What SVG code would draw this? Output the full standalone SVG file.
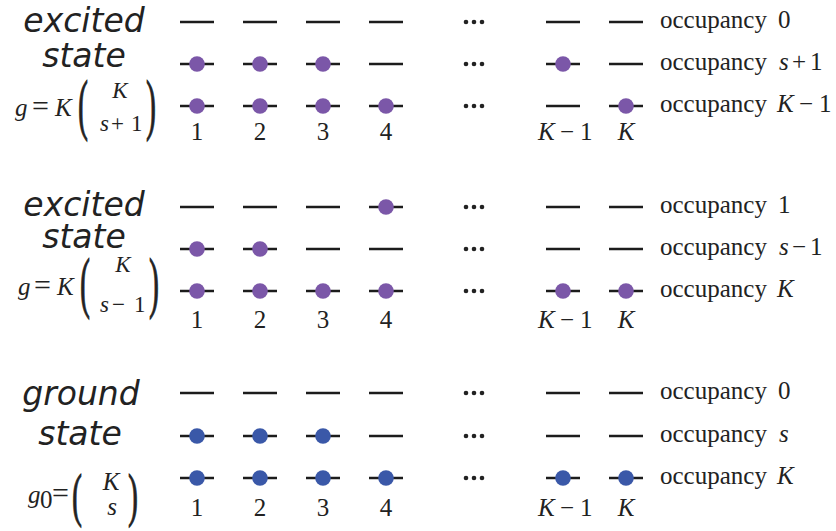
<svg xmlns="http://www.w3.org/2000/svg" width="836" height="531" viewBox="0 0 836 531">
<style>
.lv{stroke:#1c1c1c;stroke-width:2.6}
.p{fill:#7b57a8}
.b{fill:#3a58a8}
.d{fill:#222}
.t{font-family:"Liberation Serif","Times New Roman",serif;font-size:25px;fill:#222}
.s{font-family:"Liberation Serif","Times New Roman",serif;font-size:23px;fill:#222}
.q{font-family:"Liberation Serif","Times New Roman",serif;font-size:30px;fill:#222;stroke:#222;stroke-width:0.5}
.e{font-family:"Liberation Serif","Times New Roman",serif;font-size:30px;fill:#222}
.i{font-style:italic}
.h{font-family:"DejaVu Sans",sans-serif;font-style:oblique;font-size:33px;fill:#222;text-anchor:middle}
.m{text-anchor:middle}
</style>
<rect width="836" height="531" fill="#fff"/>

<!-- ===== Section 1: excited state (s+1) ===== -->
<g id="sec1-title">
<text class="h" x="84" y="32">excited</text>
<text class="h" x="84" y="67">state</text>
</g>
<g id="sec1-formula">
<text class="t i" x="15" y="116">g</text>
<text class="e" x="32" y="116">=</text>
<text class="t i" x="55" y="116">K</text>
<text class="q" transform="translate(78,127) scale(1,2.27)">(</text>
<text class="s i m" x="120" y="98">K</text>
<text class="s i" x="100" y="131">s</text>
<text class="s" x="111" y="131">+</text>
<text class="s" x="131" y="131">1</text>
<text class="q" transform="translate(146,127) scale(1,2.27)">)</text>
</g>
<g id="sec1-levels">
<line class="lv" x1="180" y1="22" x2="214" y2="22"/>
<line class="lv" x1="243" y1="22" x2="277" y2="22"/>
<line class="lv" x1="306" y1="22" x2="340" y2="22"/>
<line class="lv" x1="369" y1="22" x2="403" y2="22"/>
<line class="lv" x1="546" y1="22" x2="580" y2="22"/>
<line class="lv" x1="609" y1="22" x2="643" y2="22"/>
<line class="lv" x1="180" y1="64" x2="214" y2="64"/>
<line class="lv" x1="243" y1="64" x2="277" y2="64"/>
<line class="lv" x1="306" y1="64" x2="340" y2="64"/>
<line class="lv" x1="369" y1="64" x2="403" y2="64"/>
<line class="lv" x1="546" y1="64" x2="580" y2="64"/>
<line class="lv" x1="609" y1="64" x2="643" y2="64"/>
<line class="lv" x1="180" y1="106" x2="214" y2="106"/>
<line class="lv" x1="243" y1="106" x2="277" y2="106"/>
<line class="lv" x1="306" y1="106" x2="340" y2="106"/>
<line class="lv" x1="369" y1="106" x2="403" y2="106"/>
<line class="lv" x1="546" y1="106" x2="580" y2="106"/>
<line class="lv" x1="609" y1="106" x2="643" y2="106"/>
<circle class="p" cx="197" cy="64" r="7.8"/>
<circle class="p" cx="260" cy="64" r="7.8"/>
<circle class="p" cx="323" cy="64" r="7.8"/>
<circle class="p" cx="563" cy="64" r="7.8"/>
<circle class="p" cx="197" cy="106" r="7.8"/>
<circle class="p" cx="260" cy="106" r="7.8"/>
<circle class="p" cx="323" cy="106" r="7.8"/>
<circle class="p" cx="386" cy="106" r="7.8"/>
<circle class="p" cx="626" cy="106" r="7.8"/>
<circle class="d" cx="466" cy="22" r="2.3"/><circle class="d" cx="474" cy="22" r="2.3"/><circle class="d" cx="482" cy="22" r="2.3"/>
<circle class="d" cx="466" cy="64" r="2.3"/><circle class="d" cx="474" cy="64" r="2.3"/><circle class="d" cx="482" cy="64" r="2.3"/>
<circle class="d" cx="466" cy="106" r="2.3"/><circle class="d" cx="474" cy="106" r="2.3"/><circle class="d" cx="482" cy="106" r="2.3"/>
</g>
<g id="sec1-labels">
<text class="t m" x="197" y="140">1</text>
<text class="t m" x="260" y="140">2</text>
<text class="t m" x="323" y="140">3</text>
<text class="t m" x="386" y="140">4</text>
<text class="t" x="538" y="140"><tspan class="i">K</tspan><tspan x="560">−</tspan><tspan x="580">1</tspan></text>
<text class="t i m" x="626" y="140">K</text>
<text class="t" x="660" y="28">occupancy <tspan x="778">0</tspan></text>
<text class="t" x="660" y="70">occupancy <tspan class="i" x="779">s</tspan><tspan x="792">+</tspan><tspan x="810">1</tspan></text>
<text class="t" x="660" y="112">occupancy <tspan class="i" x="777">K</tspan><tspan x="799">−</tspan><tspan x="819">1</tspan></text>
</g>

<!-- ===== Section 2: excited state (s-1) ===== -->
<g id="sec2-title">
<text class="h" x="84" y="216">excited</text>
<text class="h" x="84" y="248">state</text>
</g>
<g id="sec2-formula">
<text class="t i" x="18" y="295">g</text>
<text class="e" x="34" y="295">=</text>
<text class="t i" x="57" y="295">K</text>
<text class="q" transform="translate(80,305) scale(1,2.27)">(</text>
<text class="s i m" x="123" y="272">K</text>
<text class="s i" x="100" y="312">s</text>
<text class="s" x="112" y="312">−</text>
<text class="s" x="134" y="312">1</text>
<text class="q" transform="translate(149,305) scale(1,2.27)">)</text>
</g>
<g id="sec2-levels">
<line class="lv" x1="180" y1="207" x2="214" y2="207"/>
<line class="lv" x1="243" y1="207" x2="277" y2="207"/>
<line class="lv" x1="306" y1="207" x2="340" y2="207"/>
<line class="lv" x1="369" y1="207" x2="403" y2="207"/>
<line class="lv" x1="546" y1="207" x2="580" y2="207"/>
<line class="lv" x1="609" y1="207" x2="643" y2="207"/>
<line class="lv" x1="180" y1="249" x2="214" y2="249"/>
<line class="lv" x1="243" y1="249" x2="277" y2="249"/>
<line class="lv" x1="306" y1="249" x2="340" y2="249"/>
<line class="lv" x1="369" y1="249" x2="403" y2="249"/>
<line class="lv" x1="546" y1="249" x2="580" y2="249"/>
<line class="lv" x1="609" y1="249" x2="643" y2="249"/>
<line class="lv" x1="180" y1="291" x2="214" y2="291"/>
<line class="lv" x1="243" y1="291" x2="277" y2="291"/>
<line class="lv" x1="306" y1="291" x2="340" y2="291"/>
<line class="lv" x1="369" y1="291" x2="403" y2="291"/>
<line class="lv" x1="546" y1="291" x2="580" y2="291"/>
<line class="lv" x1="609" y1="291" x2="643" y2="291"/>
<circle class="p" cx="386" cy="207" r="7.8"/>
<circle class="p" cx="197" cy="249" r="7.8"/>
<circle class="p" cx="260" cy="249" r="7.8"/>
<circle class="p" cx="197" cy="291" r="7.8"/>
<circle class="p" cx="260" cy="291" r="7.8"/>
<circle class="p" cx="323" cy="291" r="7.8"/>
<circle class="p" cx="386" cy="291" r="7.8"/>
<circle class="p" cx="563" cy="291" r="7.8"/>
<circle class="p" cx="626" cy="291" r="7.8"/>
<circle class="d" cx="466" cy="207" r="2.3"/><circle class="d" cx="474" cy="207" r="2.3"/><circle class="d" cx="482" cy="207" r="2.3"/>
<circle class="d" cx="466" cy="249" r="2.3"/><circle class="d" cx="474" cy="249" r="2.3"/><circle class="d" cx="482" cy="249" r="2.3"/>
<circle class="d" cx="466" cy="291" r="2.3"/><circle class="d" cx="474" cy="291" r="2.3"/><circle class="d" cx="482" cy="291" r="2.3"/>
</g>
<g id="sec2-labels">
<text class="t m" x="197" y="328">1</text>
<text class="t m" x="260" y="328">2</text>
<text class="t m" x="323" y="328">3</text>
<text class="t m" x="386" y="328">4</text>
<text class="t" x="538" y="328"><tspan class="i">K</tspan><tspan x="560">−</tspan><tspan x="580">1</tspan></text>
<text class="t i m" x="626" y="328">K</text>
<text class="t" x="660" y="213">occupancy <tspan x="778">1</tspan></text>
<text class="t" x="660" y="255">occupancy <tspan class="i" x="779">s</tspan><tspan x="792">−</tspan><tspan x="810">1</tspan></text>
<text class="t" x="660" y="297">occupancy <tspan class="i" x="777">K</tspan></text>
</g>

<!-- ===== Section 3: ground state ===== -->
<g id="sec3-title">
<text class="h" x="81" y="405">ground</text>
<text class="h" x="80" y="445">state</text>
</g>
<g id="sec3-formula">
<text class="t i" x="28" y="503">g</text>
<text class="t" x="40" y="508" font-size="17">0</text>
<text class="e" x="52" y="503">=</text>
<text class="q" transform="translate(72,515) scale(1,1.98)">(</text>
<text class="t i m" x="111" y="490">K</text>
<text class="t i m" x="112" y="515">s</text>
<text class="q" transform="translate(128,515) scale(1,1.98)">)</text>
</g>
<g id="sec3-levels">
<line class="lv" x1="180" y1="393" x2="214" y2="393"/>
<line class="lv" x1="243" y1="393" x2="277" y2="393"/>
<line class="lv" x1="306" y1="393" x2="340" y2="393"/>
<line class="lv" x1="369" y1="393" x2="403" y2="393"/>
<line class="lv" x1="546" y1="393" x2="580" y2="393"/>
<line class="lv" x1="609" y1="393" x2="643" y2="393"/>
<line class="lv" x1="180" y1="436" x2="214" y2="436"/>
<line class="lv" x1="243" y1="436" x2="277" y2="436"/>
<line class="lv" x1="306" y1="436" x2="340" y2="436"/>
<line class="lv" x1="369" y1="436" x2="403" y2="436"/>
<line class="lv" x1="546" y1="436" x2="580" y2="436"/>
<line class="lv" x1="609" y1="436" x2="643" y2="436"/>
<line class="lv" x1="180" y1="478" x2="214" y2="478"/>
<line class="lv" x1="243" y1="478" x2="277" y2="478"/>
<line class="lv" x1="306" y1="478" x2="340" y2="478"/>
<line class="lv" x1="369" y1="478" x2="403" y2="478"/>
<line class="lv" x1="546" y1="478" x2="580" y2="478"/>
<line class="lv" x1="609" y1="478" x2="643" y2="478"/>
<circle class="b" cx="197" cy="436" r="7.8"/>
<circle class="b" cx="260" cy="436" r="7.8"/>
<circle class="b" cx="323" cy="436" r="7.8"/>
<circle class="b" cx="197" cy="478" r="7.8"/>
<circle class="b" cx="260" cy="478" r="7.8"/>
<circle class="b" cx="323" cy="478" r="7.8"/>
<circle class="b" cx="386" cy="478" r="7.8"/>
<circle class="b" cx="563" cy="478" r="7.8"/>
<circle class="b" cx="626" cy="478" r="7.8"/>
<circle class="d" cx="466" cy="393" r="2.3"/><circle class="d" cx="474" cy="393" r="2.3"/><circle class="d" cx="482" cy="393" r="2.3"/>
<circle class="d" cx="466" cy="436" r="2.3"/><circle class="d" cx="474" cy="436" r="2.3"/><circle class="d" cx="482" cy="436" r="2.3"/>
<circle class="d" cx="466" cy="478" r="2.3"/><circle class="d" cx="474" cy="478" r="2.3"/><circle class="d" cx="482" cy="478" r="2.3"/>
</g>
<g id="sec3-labels">
<text class="t m" x="197" y="516">1</text>
<text class="t m" x="260" y="516">2</text>
<text class="t m" x="323" y="516">3</text>
<text class="t m" x="386" y="516">4</text>
<text class="t" x="538" y="516"><tspan class="i">K</tspan><tspan x="560">−</tspan><tspan x="580">1</tspan></text>
<text class="t i m" x="626" y="516">K</text>
<text class="t" x="660" y="399">occupancy <tspan x="778">0</tspan></text>
<text class="t" x="660" y="442">occupancy <tspan class="i" x="779">s</tspan></text>
<text class="t" x="660" y="484">occupancy <tspan class="i" x="777">K</tspan></text>
</g>
</svg>
